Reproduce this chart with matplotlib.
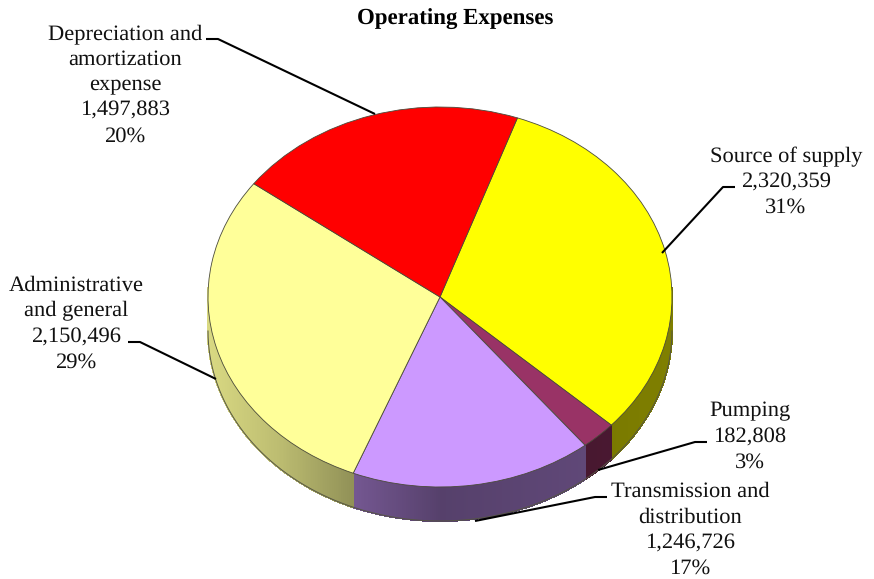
import numpy as np
import matplotlib
matplotlib.use('Agg')
import matplotlib.pyplot as plt

plt.rcParams['font.family'] = ['Liberation Serif', 'DejaVu Serif']
plt.rcParams['text.hinting'] = 'no_hinting'

categories = ['Source of supply', 'Pumping', 'Transmission and\ndistribution',
              'Administrative\nand general', 'Depreciation and\namortization\nexpense']
amounts = [2320359, 182808, 1246726, 2150496, 1497883]
percents = ['31%', '3%', '17%', '29%', '20%']
colors = ['#FFFF00', '#993366', '#CC99FF', '#FFFF99', '#FF0000']

W, H = 874, 579
cx, cy, rx, ry = 440, 297, 232, 190
depth = 34 / ry   # wall height in unit-circle terms
start = 70.5      # first slice edge, degrees ccw from +x


def shade(hex_color, f):
    rgb = np.array(matplotlib.colors.to_rgb(hex_color))
    return tuple(rgb * f)


fig = plt.figure(figsize=(W / 100, H / 100), dpi=100)

# the pie lives in an axes stretched to an ellipse
ax = fig.add_axes([(cx - rx) / W, 1 - (cy + ry) / H, 2 * rx / W, 2 * ry / H])
wedges, _ = ax.pie(amounts, colors=colors, startangle=start, counterclock=False, radius=1,
                   wedgeprops=dict(edgecolor='#4a4a3a', linewidth=0.6))
ax.set_aspect('auto')
ax.set_xlim(-1, 1)
ax.set_ylim(-1, 1)
for w in wedges:
    w.set_zorder(3)
    w.set_clip_on(False)

# side wall, drawn as thin strips so the shading can vary round the rim
fracs = np.array(amounts) / np.sum(amounts)
edges = start - 360 * np.concatenate([[0], np.cumsum(fracs)])
for i, col in enumerate(colors):
    a0, a1 = edges[i], edges[i + 1]
    angles = np.arange(a0, a1 - 0.5, -0.5)
    angles = np.append(angles, a1)
    for t0, t1 in zip(angles[:-1], angles[1:]):
        x0, y0, x1, y1 = np.cos(np.radians(t0)), np.sin(np.radians(t0)), np.cos(np.radians(t1)), np.sin(np.radians(t1))
        if (y0 + y1) / 2 > 0.05:
            continue
        f = np.interp((x0 + x1) / 2, [-1, -0.7, -0.4, 0, 0.5, 1], [0.85, 0.74, 0.58, 0.42, 0.46, 0.5])
        ax.fill([x0, x1, x1, x0], [y0, y1, y1 - depth, y0 - depth], color=shade(col, f),
                lw=0.8, antialiased=False, zorder=1, clip_on=False)

# dark rim along the bottom of the wall
th = np.radians(np.linspace(180, 360, 300))
ax.plot(np.cos(th), np.sin(th) - depth, color='#555544', lw=0.7, zorder=2, clip_on=False)

# overlay in pixel coordinates for the text and leader lines
ov = fig.add_axes([0, 0, 1, 1], facecolor='none')
ov.set_xlim(0, W)
ov.set_ylim(H, 0)
ov.axis('off')

ov.text(455, 19, 'Operating Expenses', ha='center', va='center', fontsize=16.5,
        fontweight='bold', color='black')

label_pos = [(786, 182), (750, 437), (690, 530), (76, 324), (125, 85)]
for name, amt, pct, (lx, ly) in zip(categories, amounts, percents, label_pos):
    ov.text(lx, ly, f'{name}\n{amt:,}\n{pct}', ha='center', va='center', fontsize=16.2,
            linespacing=1.37, color='#111111')

leaders = [
    [(735, 187), (723, 187), (662, 253)],
    [(707, 442), (695, 442), (598, 470)],
    [(607, 497), (595, 497), (475, 521)],
    [(128, 342), (140, 342), (216, 379)],
    [(206, 39), (218, 39), (375, 114)],
]
for pts in leaders:
    xs, ys = zip(*pts)
    ov.plot(xs, ys, color='black', lw=1.5, solid_capstyle='butt', zorder=5)

fig.savefig('out.png', dpi=100, facecolor='white')
